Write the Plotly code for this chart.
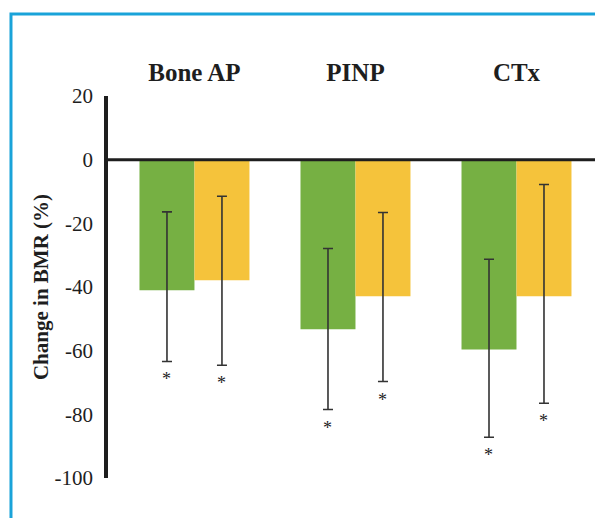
import plotly.graph_objects as go

markers = ["Bone AP", "PINP", "CTx"]
green_vals = [-41.0, -53.3, -59.6]
green_err_up = [24.6, 25.4, 28.3]
green_err_down = [22.4, 25.2, 27.6]
yellow_vals = [-37.9, -42.9, -42.9]
yellow_err_up = [26.4, 26.3, 35.1]
yellow_err_down = [26.7, 26.8, 33.6]
y_ticks = [20, 0, -20, -40, -60, -80, -100]

GREEN = "#76b043"
YELLOW = "#f5c33b"
INK = "#1e1e1e"

fig = go.Figure()
for vals, up, down, color in [
    (green_vals, green_err_up, green_err_down, GREEN),
    (yellow_vals, yellow_err_up, yellow_err_down, YELLOW),
]:
    fig.add_trace(
        go.Bar(
            x=markers,
            y=vals,
            marker=dict(color=color, line=dict(width=0)),
            error_y=dict(
                type="data",
                symmetric=False,
                array=up,
                arrayminus=down,
                color="#333333",
                thickness=1.6,
                width=5,
            ),
            showlegend=False,
        )
    )

# significance stars under each error bar
for vals, down, shift in [(green_vals, green_err_down, -27.5), (yellow_vals, yellow_err_down, 27.5)]:
    for m, v, d in zip(markers, vals, down):
        fig.add_annotation(
            x=m, y=v - d, xshift=shift, yshift=-6,
            text="*", showarrow=False, yanchor="top",
            font=dict(family="Liberation Serif", size=18, color="#222222"),
        )

# page body has an 8px margin, so the figure is 8px smaller than the window
fig.update_layout(
    width=595,
    height=510,
    margin=dict(l=100, r=6, t=88, b=40),
    plot_bgcolor="white",
    paper_bgcolor="white",
    barmode="group",
    bargap=0.317,
    bargroupgap=0,
    shapes=[
        dict(type="line", xref="paper", yref="y", x0=0, x1=1, y0=0, y1=0,
             line=dict(color=INK, width=3), layer="above"),
        dict(type="rect", xref="paper", yref="paper", x0=-0.1984, x1=1.2,
             y0=-0.3, y1=1.2147, line=dict(color="#1aa3d9", width=3)),
    ],
)
fig.update_xaxes(
    type="category",
    side="top",
    range=[-0.537, 2.5],
    automargin=False,
    showline=False,
    showgrid=False,
    ticks="",
    ticklabelstandoff=9,
    tickfont=dict(family="Liberation Serif", size=25, color=INK, weight="bold"),
)
fig.update_yaxes(
    range=[-100, 20],
    tickvals=y_ticks,
    ticktext=[str(v) for v in y_ticks],
    automargin=False,
    showgrid=False,
    zeroline=False,
    showline=True,
    linecolor=INK,
    linewidth=3.5,
    ticks="",
    ticklabelstandoff=7,
    tickfont=dict(family="Liberation Serif", size=21, color=INK),
    title=dict(
        text="Change in BMR (%)",
        standoff=1,
        font=dict(family="Liberation Serif", size=21, color=INK, weight="bold"),
    ),
)

fig.write_html("out.html")
